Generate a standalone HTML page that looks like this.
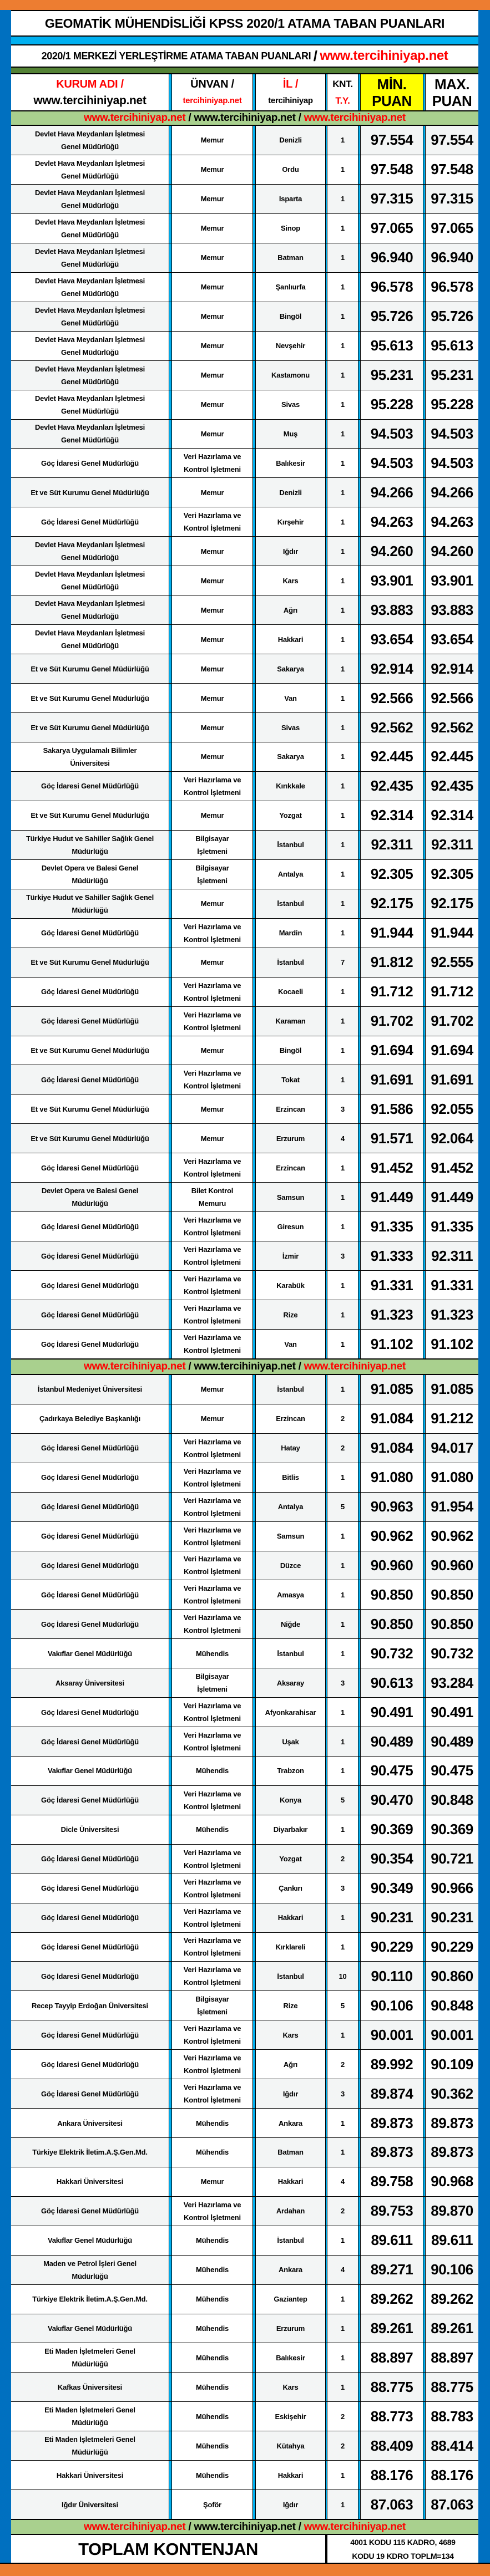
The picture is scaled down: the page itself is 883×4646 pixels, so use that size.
<!DOCTYPE html>
<html><head><meta charset="utf-8">
<style>
*{margin:0;padding:0;box-sizing:border-box}
body{width:883px;height:4646px;background:#0070c0;position:relative;font-family:"Liberation Sans",Arial,sans-serif;font-weight:bold;color:#000;overflow:hidden}
.abs{position:absolute;left:20px;width:842px}
.orange{position:absolute;left:0;width:883px;background:#ed7d31}
.blk{background:#000}
.c{display:flex;align-items:center;justify-content:center;text-align:center;white-space:nowrap}
.red{color:#ff0000}
.sec{position:absolute;left:20px;width:842px;display:grid}
.r{display:grid;grid-template-columns:284px 6px 145px 6px 125px 4px 55px 5px 112px 5px 95px;border-bottom:1px solid #000;background:#fff;overflow:hidden}
.r>i{background:#00b0f0;border-left:1px solid #000;border-right:1px solid #000}
.r>div{display:flex;align-items:center;justify-content:center;text-align:center;font-size:13px;line-height:23px;letter-spacing:-0.2px;white-space:nowrap}
.r>div:nth-child(9),.r>div:nth-child(11){font-size:26px;letter-spacing:-0.5px}
.g>div:nth-child(1),.g>div:nth-child(5),.g>div:nth-child(7),.g>div:nth-child(9),.g>div:nth-child(11){background:#f3f5f5}
.link{font-size:19px;letter-spacing:-0.3px;background:#a9d08e}
.hd>div{font-size:20px;line-height:30px;flex-direction:column;letter-spacing:-0.3px}
</style></head><body>
<div class="orange" style="top:0;height:18px"></div>
<div class="abs blk" style="top:18px;height:2px"></div>
<div class="abs c" style="top:20px;height:44px;background:#fff;font-size:23px;letter-spacing:-0.3px">GEOMATİK MÜHENDİSLİĞİ KPSS 2020/1 ATAMA TABAN PUANLARI</div>
<div class="abs blk" style="top:64px;height:2px"></div>
<div class="abs" style="top:66px;height:14px;background:#00b0f0"></div>
<div class="abs blk" style="top:80px;height:2px"></div>
<div class="abs c" style="top:82px;height:38px;background:#fff;font-size:18px;letter-spacing:-0.4px">2020/1 MERKEZİ YERLEŞTİRME ATAMA TABAN PUANLARI&nbsp;<span style="font-size:26px">/</span>&nbsp;<span class="red" style="font-size:24px">www.tercihiniyap.net</span></div>
<div class="abs blk" style="top:120px;height:2px"></div>
<div class="abs" style="top:122px;height:10px;background:#548235"></div>
<div class="abs blk" style="top:132px;height:2px"></div>
<div class="abs r hd" style="top:134px;height:67px;border-bottom:2px solid #000">
<div><span class="red">KURUM ADI /</span><span style="font-size:21px">www.tercihiniyap.net</span></div><i></i>
<div><span>ÜNVAN /</span><span class="red" style="font-size:15px">tercihiniyap.net</span></div><i></i>
<div><span class="red">İL /</span><span style="font-size:15px">tercihiniyap</span></div><i></i>
<div style="font-size:17px"><span>KNT.</span><span class="red">T.Y.</span></div><i></i>
<div style="background:#ffff00"><span>MİN.</span><span>PUAN</span></div><i></i>
<div><span>MAX.</span><span>PUAN</span></div>
</div>
<div class="abs c link" style="top:201px;height:24px"><span class="red">www.tercihiniyap.net</span>&nbsp;/ www.tercihiniyap.net /&nbsp;<span class="red">www.tercihiniyap.net</span></div>
<div class="abs blk" style="top:225px;height:2px"></div>

<div class="sec" style="top:227px;height:2224px;grid-template-rows:repeat(42,1fr)">
<div class="r g"><div>Devlet Hava Meydanları İşletmesi<br>Genel Müdürlüğü</div><i></i><div>Memur</div><i></i><div>Denizli</div><i></i><div>1</div><i></i><div>97.554</div><i></i><div>97.554</div></div>
<div class="r"><div>Devlet Hava Meydanları İşletmesi<br>Genel Müdürlüğü</div><i></i><div>Memur</div><i></i><div>Ordu</div><i></i><div>1</div><i></i><div>97.548</div><i></i><div>97.548</div></div>
<div class="r g"><div>Devlet Hava Meydanları İşletmesi<br>Genel Müdürlüğü</div><i></i><div>Memur</div><i></i><div>Isparta</div><i></i><div>1</div><i></i><div>97.315</div><i></i><div>97.315</div></div>
<div class="r"><div>Devlet Hava Meydanları İşletmesi<br>Genel Müdürlüğü</div><i></i><div>Memur</div><i></i><div>Sinop</div><i></i><div>1</div><i></i><div>97.065</div><i></i><div>97.065</div></div>
<div class="r g"><div>Devlet Hava Meydanları İşletmesi<br>Genel Müdürlüğü</div><i></i><div>Memur</div><i></i><div>Batman</div><i></i><div>1</div><i></i><div>96.940</div><i></i><div>96.940</div></div>
<div class="r"><div>Devlet Hava Meydanları İşletmesi<br>Genel Müdürlüğü</div><i></i><div>Memur</div><i></i><div>Şanlıurfa</div><i></i><div>1</div><i></i><div>96.578</div><i></i><div>96.578</div></div>
<div class="r g"><div>Devlet Hava Meydanları İşletmesi<br>Genel Müdürlüğü</div><i></i><div>Memur</div><i></i><div>Bingöl</div><i></i><div>1</div><i></i><div>95.726</div><i></i><div>95.726</div></div>
<div class="r"><div>Devlet Hava Meydanları İşletmesi<br>Genel Müdürlüğü</div><i></i><div>Memur</div><i></i><div>Nevşehir</div><i></i><div>1</div><i></i><div>95.613</div><i></i><div>95.613</div></div>
<div class="r g"><div>Devlet Hava Meydanları İşletmesi<br>Genel Müdürlüğü</div><i></i><div>Memur</div><i></i><div>Kastamonu</div><i></i><div>1</div><i></i><div>95.231</div><i></i><div>95.231</div></div>
<div class="r"><div>Devlet Hava Meydanları İşletmesi<br>Genel Müdürlüğü</div><i></i><div>Memur</div><i></i><div>Sivas</div><i></i><div>1</div><i></i><div>95.228</div><i></i><div>95.228</div></div>
<div class="r g"><div>Devlet Hava Meydanları İşletmesi<br>Genel Müdürlüğü</div><i></i><div>Memur</div><i></i><div>Muş</div><i></i><div>1</div><i></i><div>94.503</div><i></i><div>94.503</div></div>
<div class="r"><div>Göç İdaresi Genel Müdürlüğü</div><i></i><div>Veri Hazırlama ve<br>Kontrol İşletmeni</div><i></i><div>Balıkesir</div><i></i><div>1</div><i></i><div>94.503</div><i></i><div>94.503</div></div>
<div class="r g"><div>Et ve Süt Kurumu Genel Müdürlüğü</div><i></i><div>Memur</div><i></i><div>Denizli</div><i></i><div>1</div><i></i><div>94.266</div><i></i><div>94.266</div></div>
<div class="r"><div>Göç İdaresi Genel Müdürlüğü</div><i></i><div>Veri Hazırlama ve<br>Kontrol İşletmeni</div><i></i><div>Kırşehir</div><i></i><div>1</div><i></i><div>94.263</div><i></i><div>94.263</div></div>
<div class="r g"><div>Devlet Hava Meydanları İşletmesi<br>Genel Müdürlüğü</div><i></i><div>Memur</div><i></i><div>Iğdır</div><i></i><div>1</div><i></i><div>94.260</div><i></i><div>94.260</div></div>
<div class="r"><div>Devlet Hava Meydanları İşletmesi<br>Genel Müdürlüğü</div><i></i><div>Memur</div><i></i><div>Kars</div><i></i><div>1</div><i></i><div>93.901</div><i></i><div>93.901</div></div>
<div class="r g"><div>Devlet Hava Meydanları İşletmesi<br>Genel Müdürlüğü</div><i></i><div>Memur</div><i></i><div>Ağrı</div><i></i><div>1</div><i></i><div>93.883</div><i></i><div>93.883</div></div>
<div class="r"><div>Devlet Hava Meydanları İşletmesi<br>Genel Müdürlüğü</div><i></i><div>Memur</div><i></i><div>Hakkari</div><i></i><div>1</div><i></i><div>93.654</div><i></i><div>93.654</div></div>
<div class="r g"><div>Et ve Süt Kurumu Genel Müdürlüğü</div><i></i><div>Memur</div><i></i><div>Sakarya</div><i></i><div>1</div><i></i><div>92.914</div><i></i><div>92.914</div></div>
<div class="r"><div>Et ve Süt Kurumu Genel Müdürlüğü</div><i></i><div>Memur</div><i></i><div>Van</div><i></i><div>1</div><i></i><div>92.566</div><i></i><div>92.566</div></div>
<div class="r g"><div>Et ve Süt Kurumu Genel Müdürlüğü</div><i></i><div>Memur</div><i></i><div>Sivas</div><i></i><div>1</div><i></i><div>92.562</div><i></i><div>92.562</div></div>
<div class="r"><div>Sakarya Uygulamalı Bilimler<br>Üniversitesi</div><i></i><div>Memur</div><i></i><div>Sakarya</div><i></i><div>1</div><i></i><div>92.445</div><i></i><div>92.445</div></div>
<div class="r g"><div>Göç İdaresi Genel Müdürlüğü</div><i></i><div>Veri Hazırlama ve<br>Kontrol İşletmeni</div><i></i><div>Kırıkkale</div><i></i><div>1</div><i></i><div>92.435</div><i></i><div>92.435</div></div>
<div class="r"><div>Et ve Süt Kurumu Genel Müdürlüğü</div><i></i><div>Memur</div><i></i><div>Yozgat</div><i></i><div>1</div><i></i><div>92.314</div><i></i><div>92.314</div></div>
<div class="r g"><div>Türkiye Hudut ve Sahiller Sağlık Genel<br>Müdürlüğü</div><i></i><div>Bilgisayar<br>İşletmeni</div><i></i><div>İstanbul</div><i></i><div>1</div><i></i><div>92.311</div><i></i><div>92.311</div></div>
<div class="r"><div>Devlet Opera ve Balesi Genel<br>Müdürlüğü</div><i></i><div>Bilgisayar<br>İşletmeni</div><i></i><div>Antalya</div><i></i><div>1</div><i></i><div>92.305</div><i></i><div>92.305</div></div>
<div class="r g"><div>Türkiye Hudut ve Sahiller Sağlık Genel<br>Müdürlüğü</div><i></i><div>Memur</div><i></i><div>İstanbul</div><i></i><div>1</div><i></i><div>92.175</div><i></i><div>92.175</div></div>
<div class="r"><div>Göç İdaresi Genel Müdürlüğü</div><i></i><div>Veri Hazırlama ve<br>Kontrol İşletmeni</div><i></i><div>Mardin</div><i></i><div>1</div><i></i><div>91.944</div><i></i><div>91.944</div></div>
<div class="r g"><div>Et ve Süt Kurumu Genel Müdürlüğü</div><i></i><div>Memur</div><i></i><div>İstanbul</div><i></i><div>7</div><i></i><div>91.812</div><i></i><div>92.555</div></div>
<div class="r"><div>Göç İdaresi Genel Müdürlüğü</div><i></i><div>Veri Hazırlama ve<br>Kontrol İşletmeni</div><i></i><div>Kocaeli</div><i></i><div>1</div><i></i><div>91.712</div><i></i><div>91.712</div></div>
<div class="r g"><div>Göç İdaresi Genel Müdürlüğü</div><i></i><div>Veri Hazırlama ve<br>Kontrol İşletmeni</div><i></i><div>Karaman</div><i></i><div>1</div><i></i><div>91.702</div><i></i><div>91.702</div></div>
<div class="r"><div>Et ve Süt Kurumu Genel Müdürlüğü</div><i></i><div>Memur</div><i></i><div>Bingöl</div><i></i><div>1</div><i></i><div>91.694</div><i></i><div>91.694</div></div>
<div class="r g"><div>Göç İdaresi Genel Müdürlüğü</div><i></i><div>Veri Hazırlama ve<br>Kontrol İşletmeni</div><i></i><div>Tokat</div><i></i><div>1</div><i></i><div>91.691</div><i></i><div>91.691</div></div>
<div class="r"><div>Et ve Süt Kurumu Genel Müdürlüğü</div><i></i><div>Memur</div><i></i><div>Erzincan</div><i></i><div>3</div><i></i><div>91.586</div><i></i><div>92.055</div></div>
<div class="r g"><div>Et ve Süt Kurumu Genel Müdürlüğü</div><i></i><div>Memur</div><i></i><div>Erzurum</div><i></i><div>4</div><i></i><div>91.571</div><i></i><div>92.064</div></div>
<div class="r"><div>Göç İdaresi Genel Müdürlüğü</div><i></i><div>Veri Hazırlama ve<br>Kontrol İşletmeni</div><i></i><div>Erzincan</div><i></i><div>1</div><i></i><div>91.452</div><i></i><div>91.452</div></div>
<div class="r g"><div>Devlet Opera ve Balesi Genel<br>Müdürlüğü</div><i></i><div>Bilet Kontrol<br>Memuru</div><i></i><div>Samsun</div><i></i><div>1</div><i></i><div>91.449</div><i></i><div>91.449</div></div>
<div class="r"><div>Göç İdaresi Genel Müdürlüğü</div><i></i><div>Veri Hazırlama ve<br>Kontrol İşletmeni</div><i></i><div>Giresun</div><i></i><div>1</div><i></i><div>91.335</div><i></i><div>91.335</div></div>
<div class="r g"><div>Göç İdaresi Genel Müdürlüğü</div><i></i><div>Veri Hazırlama ve<br>Kontrol İşletmeni</div><i></i><div>İzmir</div><i></i><div>3</div><i></i><div>91.333</div><i></i><div>92.311</div></div>
<div class="r"><div>Göç İdaresi Genel Müdürlüğü</div><i></i><div>Veri Hazırlama ve<br>Kontrol İşletmeni</div><i></i><div>Karabük</div><i></i><div>1</div><i></i><div>91.331</div><i></i><div>91.331</div></div>
<div class="r g"><div>Göç İdaresi Genel Müdürlüğü</div><i></i><div>Veri Hazırlama ve<br>Kontrol İşletmeni</div><i></i><div>Rize</div><i></i><div>1</div><i></i><div>91.323</div><i></i><div>91.323</div></div>
<div class="r"><div>Göç İdaresi Genel Müdürlüğü</div><i></i><div>Veri Hazırlama ve<br>Kontrol İşletmeni</div><i></i><div>Van</div><i></i><div>1</div><i></i><div>91.102</div><i></i><div>91.102</div></div>
</div>

<div class="abs blk" style="top:2450px;height:2px"></div>
<div class="abs c link" style="top:2452px;height:26px"><span class="red">www.tercihiniyap.net</span>&nbsp;/ www.tercihiniyap.net /&nbsp;<span class="red">www.tercihiniyap.net</span></div>
<div class="abs blk" style="top:2478px;height:2px"></div>

<div class="sec" style="top:2480px;height:2064px;grid-template-rows:repeat(39,1fr)">
<div class="r g"><div>İstanbul Medeniyet Üniversitesi</div><i></i><div>Memur</div><i></i><div>İstanbul</div><i></i><div>1</div><i></i><div>91.085</div><i></i><div>91.085</div></div>
<div class="r"><div>Çadırkaya Belediye Başkanlığı</div><i></i><div>Memur</div><i></i><div>Erzincan</div><i></i><div>2</div><i></i><div>91.084</div><i></i><div>91.212</div></div>
<div class="r g"><div>Göç İdaresi Genel Müdürlüğü</div><i></i><div>Veri Hazırlama ve<br>Kontrol İşletmeni</div><i></i><div>Hatay</div><i></i><div>2</div><i></i><div>91.084</div><i></i><div>94.017</div></div>
<div class="r"><div>Göç İdaresi Genel Müdürlüğü</div><i></i><div>Veri Hazırlama ve<br>Kontrol İşletmeni</div><i></i><div>Bitlis</div><i></i><div>1</div><i></i><div>91.080</div><i></i><div>91.080</div></div>
<div class="r g"><div>Göç İdaresi Genel Müdürlüğü</div><i></i><div>Veri Hazırlama ve<br>Kontrol İşletmeni</div><i></i><div>Antalya</div><i></i><div>5</div><i></i><div>90.963</div><i></i><div>91.954</div></div>
<div class="r"><div>Göç İdaresi Genel Müdürlüğü</div><i></i><div>Veri Hazırlama ve<br>Kontrol İşletmeni</div><i></i><div>Samsun</div><i></i><div>1</div><i></i><div>90.962</div><i></i><div>90.962</div></div>
<div class="r g"><div>Göç İdaresi Genel Müdürlüğü</div><i></i><div>Veri Hazırlama ve<br>Kontrol İşletmeni</div><i></i><div>Düzce</div><i></i><div>1</div><i></i><div>90.960</div><i></i><div>90.960</div></div>
<div class="r"><div>Göç İdaresi Genel Müdürlüğü</div><i></i><div>Veri Hazırlama ve<br>Kontrol İşletmeni</div><i></i><div>Amasya</div><i></i><div>1</div><i></i><div>90.850</div><i></i><div>90.850</div></div>
<div class="r g"><div>Göç İdaresi Genel Müdürlüğü</div><i></i><div>Veri Hazırlama ve<br>Kontrol İşletmeni</div><i></i><div>Niğde</div><i></i><div>1</div><i></i><div>90.850</div><i></i><div>90.850</div></div>
<div class="r"><div>Vakıflar Genel Müdürlüğü</div><i></i><div>Mühendis</div><i></i><div>İstanbul</div><i></i><div>1</div><i></i><div>90.732</div><i></i><div>90.732</div></div>
<div class="r g"><div>Aksaray Üniversitesi</div><i></i><div>Bilgisayar<br>İşletmeni</div><i></i><div>Aksaray</div><i></i><div>3</div><i></i><div>90.613</div><i></i><div>93.284</div></div>
<div class="r"><div>Göç İdaresi Genel Müdürlüğü</div><i></i><div>Veri Hazırlama ve<br>Kontrol İşletmeni</div><i></i><div>Afyonkarahisar</div><i></i><div>1</div><i></i><div>90.491</div><i></i><div>90.491</div></div>
<div class="r g"><div>Göç İdaresi Genel Müdürlüğü</div><i></i><div>Veri Hazırlama ve<br>Kontrol İşletmeni</div><i></i><div>Uşak</div><i></i><div>1</div><i></i><div>90.489</div><i></i><div>90.489</div></div>
<div class="r"><div>Vakıflar Genel Müdürlüğü</div><i></i><div>Mühendis</div><i></i><div>Trabzon</div><i></i><div>1</div><i></i><div>90.475</div><i></i><div>90.475</div></div>
<div class="r g"><div>Göç İdaresi Genel Müdürlüğü</div><i></i><div>Veri Hazırlama ve<br>Kontrol İşletmeni</div><i></i><div>Konya</div><i></i><div>5</div><i></i><div>90.470</div><i></i><div>90.848</div></div>
<div class="r"><div>Dicle Üniversitesi</div><i></i><div>Mühendis</div><i></i><div>Diyarbakır</div><i></i><div>1</div><i></i><div>90.369</div><i></i><div>90.369</div></div>
<div class="r g"><div>Göç İdaresi Genel Müdürlüğü</div><i></i><div>Veri Hazırlama ve<br>Kontrol İşletmeni</div><i></i><div>Yozgat</div><i></i><div>2</div><i></i><div>90.354</div><i></i><div>90.721</div></div>
<div class="r"><div>Göç İdaresi Genel Müdürlüğü</div><i></i><div>Veri Hazırlama ve<br>Kontrol İşletmeni</div><i></i><div>Çankırı</div><i></i><div>3</div><i></i><div>90.349</div><i></i><div>90.966</div></div>
<div class="r g"><div>Göç İdaresi Genel Müdürlüğü</div><i></i><div>Veri Hazırlama ve<br>Kontrol İşletmeni</div><i></i><div>Hakkari</div><i></i><div>1</div><i></i><div>90.231</div><i></i><div>90.231</div></div>
<div class="r"><div>Göç İdaresi Genel Müdürlüğü</div><i></i><div>Veri Hazırlama ve<br>Kontrol İşletmeni</div><i></i><div>Kırklareli</div><i></i><div>1</div><i></i><div>90.229</div><i></i><div>90.229</div></div>
<div class="r g"><div>Göç İdaresi Genel Müdürlüğü</div><i></i><div>Veri Hazırlama ve<br>Kontrol İşletmeni</div><i></i><div>İstanbul</div><i></i><div>10</div><i></i><div>90.110</div><i></i><div>90.860</div></div>
<div class="r"><div>Recep Tayyip Erdoğan Üniversitesi</div><i></i><div>Bilgisayar<br>İşletmeni</div><i></i><div>Rize</div><i></i><div>5</div><i></i><div>90.106</div><i></i><div>90.848</div></div>
<div class="r g"><div>Göç İdaresi Genel Müdürlüğü</div><i></i><div>Veri Hazırlama ve<br>Kontrol İşletmeni</div><i></i><div>Kars</div><i></i><div>1</div><i></i><div>90.001</div><i></i><div>90.001</div></div>
<div class="r"><div>Göç İdaresi Genel Müdürlüğü</div><i></i><div>Veri Hazırlama ve<br>Kontrol İşletmeni</div><i></i><div>Ağrı</div><i></i><div>2</div><i></i><div>89.992</div><i></i><div>90.109</div></div>
<div class="r g"><div>Göç İdaresi Genel Müdürlüğü</div><i></i><div>Veri Hazırlama ve<br>Kontrol İşletmeni</div><i></i><div>Iğdır</div><i></i><div>3</div><i></i><div>89.874</div><i></i><div>90.362</div></div>
<div class="r"><div>Ankara Üniversitesi</div><i></i><div>Mühendis</div><i></i><div>Ankara</div><i></i><div>1</div><i></i><div>89.873</div><i></i><div>89.873</div></div>
<div class="r g"><div>Türkiye Elektrik İletim.A.Ş.Gen.Md.</div><i></i><div>Mühendis</div><i></i><div>Batman</div><i></i><div>1</div><i></i><div>89.873</div><i></i><div>89.873</div></div>
<div class="r"><div>Hakkari Üniversitesi</div><i></i><div>Memur</div><i></i><div>Hakkari</div><i></i><div>4</div><i></i><div>89.758</div><i></i><div>90.968</div></div>
<div class="r g"><div>Göç İdaresi Genel Müdürlüğü</div><i></i><div>Veri Hazırlama ve<br>Kontrol İşletmeni</div><i></i><div>Ardahan</div><i></i><div>2</div><i></i><div>89.753</div><i></i><div>89.870</div></div>
<div class="r"><div>Vakıflar Genel Müdürlüğü</div><i></i><div>Mühendis</div><i></i><div>İstanbul</div><i></i><div>1</div><i></i><div>89.611</div><i></i><div>89.611</div></div>
<div class="r g"><div>Maden ve Petrol İşleri Genel<br>Müdürlüğü</div><i></i><div>Mühendis</div><i></i><div>Ankara</div><i></i><div>4</div><i></i><div>89.271</div><i></i><div>90.106</div></div>
<div class="r"><div>Türkiye Elektrik İletim.A.Ş.Gen.Md.</div><i></i><div>Mühendis</div><i></i><div>Gaziantep</div><i></i><div>1</div><i></i><div>89.262</div><i></i><div>89.262</div></div>
<div class="r g"><div>Vakıflar Genel Müdürlüğü</div><i></i><div>Mühendis</div><i></i><div>Erzurum</div><i></i><div>1</div><i></i><div>89.261</div><i></i><div>89.261</div></div>
<div class="r"><div>Eti Maden İşletmeleri Genel<br>Müdürlüğü</div><i></i><div>Mühendis</div><i></i><div>Balıkesir</div><i></i><div>1</div><i></i><div>88.897</div><i></i><div>88.897</div></div>
<div class="r g"><div>Kafkas Üniversitesi</div><i></i><div>Mühendis</div><i></i><div>Kars</div><i></i><div>1</div><i></i><div>88.775</div><i></i><div>88.775</div></div>
<div class="r"><div>Eti Maden İşletmeleri Genel<br>Müdürlüğü</div><i></i><div>Mühendis</div><i></i><div>Eskişehir</div><i></i><div>2</div><i></i><div>88.773</div><i></i><div>88.783</div></div>
<div class="r g"><div>Eti Maden İşletmeleri Genel<br>Müdürlüğü</div><i></i><div>Mühendis</div><i></i><div>Kütahya</div><i></i><div>2</div><i></i><div>88.409</div><i></i><div>88.414</div></div>
<div class="r"><div>Hakkari Üniversitesi</div><i></i><div>Mühendis</div><i></i><div>Hakkari</div><i></i><div>1</div><i></i><div>88.176</div><i></i><div>88.176</div></div>
<div class="r g"><div>Iğdır Üniversitesi</div><i></i><div>Şoför</div><i></i><div>Iğdır</div><i></i><div>1</div><i></i><div>87.063</div><i></i><div>87.063</div></div>
</div>

<div class="abs blk" style="top:4543px;height:2px"></div>
<div class="abs c link" style="top:4545px;height:25px"><span class="red">www.tercihiniyap.net</span>&nbsp;/ www.tercihiniyap.net /&nbsp;<span class="red">www.tercihiniyap.net</span></div>
<div class="abs blk" style="top:4570px;height:2px"></div>
<div class="abs" style="top:4572px;height:51px;background:#fff">
  <div class="c" style="position:absolute;left:0;top:0;width:566px;height:51px;font-size:31px;letter-spacing:-0.5px">TOPLAM KONTENJAN</div>
  <div style="position:absolute;left:566px;top:0;width:4px;height:51px;background:#000"></div>
  <div class="c" style="position:absolute;left:570px;top:0;width:272px;height:51px;font-size:14px;line-height:25px;flex-direction:column;letter-spacing:-0.3px"><span>4001 KODU 115 KADRO, 4689</span><span>KODU 19 KDRO TOPLM=134</span></div>
</div>
<div class="abs blk" style="top:4622px;height:2px;left:0;width:883px"></div>
<div class="orange" style="top:4624px;height:22px"></div>
</body></html>
